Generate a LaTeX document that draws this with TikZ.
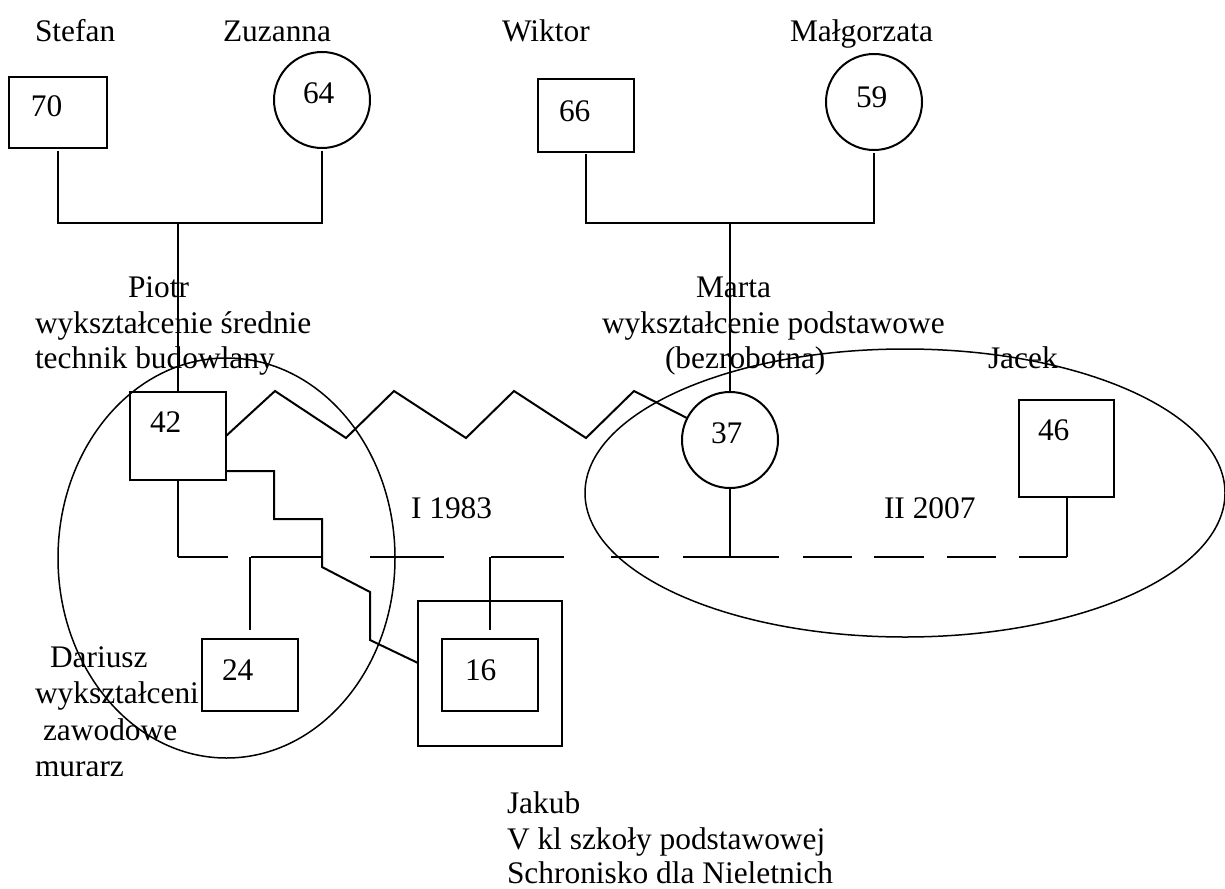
\documentclass[tikz,border=0pt]{standalone}
\usepackage{fontspec}
\setmainfont{Liberation Serif}
\begin{document}
\begin{tikzpicture}[x=0.5pt,y=-0.5pt,
  every node/.style={inner sep=0pt, outer sep=0pt},
  male/.style={draw, rectangle, line width=1pt},
  female/.style={draw, circle, line width=1pt, minimum size=48pt},
  lbl/.style={anchor=base west, font=\fontsize{15.7}{18}\selectfont},
  tie/.style={line width=1pt},
  grp/.style={line width=0.75pt},
  sibdash/.style={dash pattern=on 25pt off 11.5pt on 36pt off 23.5pt on 37pt off 23.5pt
    on 36.5pt off 23.5pt on 24pt off 12pt on 48pt off 12pt on 24.5pt off 11pt
    on 25pt off 11.5pt on 24.5pt off 11.5pt on 24.5pt off 50pt}]
\useasboundingbox (0,0) rectangle (1225,888);

% grandparents (father's side)
\node[lbl] (nStefan) at (35,42) {Stefan};
\node[lbl] (nZuzanna) at (223,42) {Zuzanna};
\node[male, minimum width=49pt, minimum height=35.5pt] (s70) at (58,112.5) {};
\node[lbl] (a70) at (31,117) {70};
\node[female] (s64) at (322,100) {};
\node[lbl] (a64) at (303,104) {64};

% grandparents (mother's side)
\node[lbl] (nWiktor) at (502,42) {Wiktor};
\node[lbl] (nMalgorzata) at (790,42) {Małgorzata};
\node[male, minimum width=48pt, minimum height=36.5pt] (s66) at (586,115.5) {};
\node[lbl] (a66) at (559,121) {66};
\node[female] (s59) at (874,102) {};
\node[lbl] (a59) at (856,107) {59};

% parents
\node[lbl] (nPiotr1) at (128,297) {Piotr};
\node[lbl] (nPiotr2) at (35,333) {wykształcenie średnie};
\node[lbl] (nPiotr3) at (35,368) {technik budowlany};
\node[male, minimum width=48pt, minimum height=44pt] (s42) at (178,436) {};
\node[lbl] (a42) at (150,432) {42};

\node[lbl] (nMarta1) at (696,297) {Marta};
\node[lbl] (nMarta2) at (602,333) {wykształcenie podstawowe};
\node[lbl] (nMarta3) at (665,368) {(bezrobotna)};
\node[female] (s37) at (730,440) {};
\node[lbl] (a37) at (711,443) {37};

\node[lbl] (nJacek) at (988,368) {Jacek};
\node[male, minimum width=47.5pt, minimum height=48.5pt] (s46) at (1066.5,448.5) {};
\node[lbl] (a46) at (1038,440) {46};

\node[lbl] (nI) at (411,518) {I 1983};
\node[lbl] (nII) at (884,518) {II 2007};

% children
\node[male, minimum width=48pt, minimum height=36pt] (s24) at (250,675) {};
\node[lbl] (a24) at (222,680) {24};
\node[lbl] (nDar1) at (50,667) {Dariusz};
\node[lbl] (nDar2) at (35,703) {wykształceni};
\node[lbl] (nDar3) at (43,740) {zawodowe};
\node[lbl] (nDar4) at (35,776) {murarz};

\node[male, minimum width=72pt, minimum height=72.5pt] (s16o) at (490,673.5) {};
\node[male, minimum width=48pt, minimum height=36pt] (s16) at (490,675) {};
\node[lbl] (a16) at (465,680) {16};
\node[lbl] (nJak1) at (507,813) {Jakub};
\node[lbl] (nJak2) at (507,849) {V kl szkoły podstawowej};
\node[lbl] (nJak3) at (507,883) {Schronisko dla Nieletnich};

% couple and sibling lines
\coordinate (c1) at (178,223);
\coordinate (c2) at (730,223);
\coordinate (sib) at (0,557);
\draw[tie, shorten <=1.5pt, shorten >=1.5pt] (s70.south) |- (c1) -| (s64.south);
\draw[tie] (c1) -- (s42.north);
\draw[tie, shorten <=1pt, shorten >=1.5pt] (s66.south) |- (c2) -| (s59.south);
\draw[tie] (c2) -- (s37.north);

\draw[tie, sibdash] (s42.south |- sib) -- (s46.south |- sib);
\draw[tie] (s42.south) -- (s42.south |- sib);
\draw[tie] (s37.south) -- (s37.south |- sib);
\draw[tie] (s46.south) -- (s46.south |- sib);
\draw[tie] (s24.north |- sib) -- ([yshift=4.5pt]s24.north);
\draw[tie] (s16.north |- sib) -- ([yshift=4.5pt]s16.north);

% conflict line
\draw[tie] (s42.east) -- (275,391) -- (346,438) -- (394,391) -- (466,438)
  -- (514,391) -- (586,438) -- (634,391) -- (s37);

% bond line
\draw[tie] ([yshift=4.5pt]s42.south east) -- (274,471) -- (274,519) -- (322,519)
  -- (322,567) -- (370,592) -- (370,640) -- ([yshift=5.25pt]s16o.west);

% household circles
\draw[grp] (226.5,558) ellipse [x radius=84.25pt, y radius=100pt];
\draw[grp] (905,493) ellipse [x radius=160pt, y radius=72pt];
\end{tikzpicture}
\end{document}
